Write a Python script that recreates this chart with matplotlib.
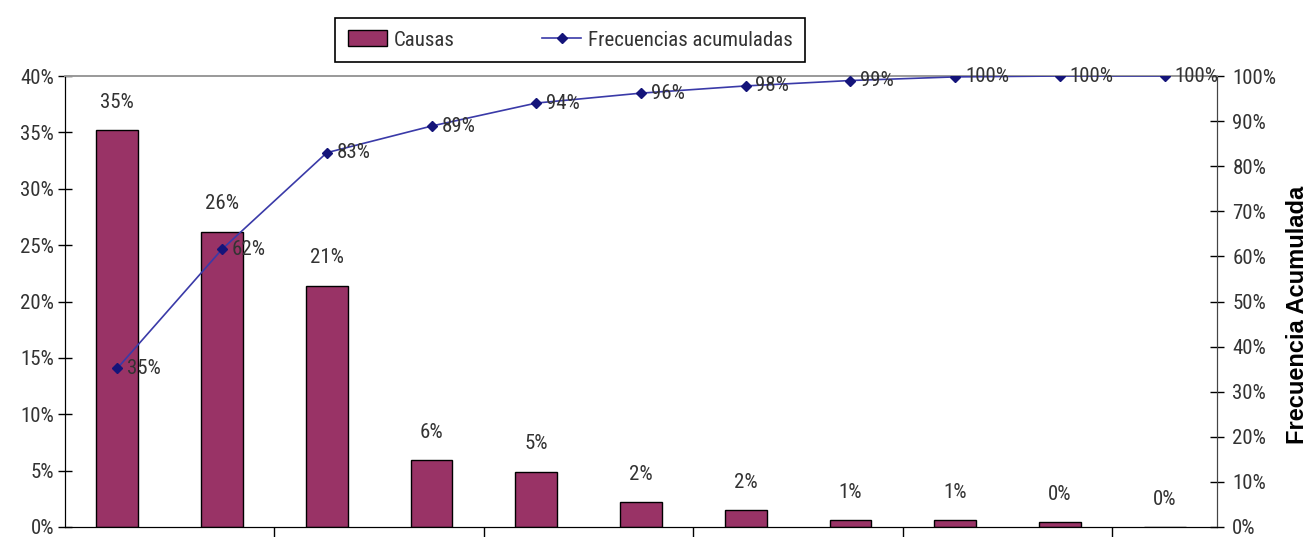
import numpy as np
import matplotlib
matplotlib.use("Agg")
from matplotlib import pyplot as plt
from matplotlib.ticker import FuncFormatter, FixedLocator

# ---------------------------------------------------------
# data
# ---------------------------------------------------------
causas = ["C1", "C2", "C3", "C4", "C5", "C6", "C7", "C8", "C9", "C10", "C11"]
frecuencia = [0.352, 0.262, 0.214, 0.059, 0.049, 0.022, 0.015, 0.006, 0.006, 0.004, 0.0]
acumulada = [0.352, 0.616, 0.830, 0.889, 0.940, 0.962, 0.978, 0.990, 0.998, 1.0, 1.0]

left_ticks = [0, 0.05, 0.10, 0.15, 0.20, 0.25, 0.30, 0.35, 0.40]
right_ticks = [0, 0.1, 0.2, 0.3, 0.4, 0.5, 0.6, 0.7, 0.8, 0.9, 1.0]

barColor = "#993366"
lineColor = "#3a3aa8"
markColor = "#14147a"
textColor = "#333333"

plt.rcParams["font.family"] = ["Roboto Condensed", "Archivo Narrow", "DejaVu Sans"]
plt.rcParams["font.size"] = 15

pct = FuncFormatter(lambda v, p: "{:.0f}%".format(v * 100))

# ---------------------------------------------------------
# figure
# ---------------------------------------------------------
fig = plt.figure(figsize=(13.07, 5.37), dpi=100)
ax = fig.add_axes([65 / 1307, 1 - 527 / 537, (1217 - 65) / 1307, (527 - 76) / 537])
ax2 = ax.twinx()

x = np.arange(len(causas))
bars = ax.bar(x, frecuencia, width=0.4, color=barColor, edgecolor="black",
              linewidth=1.0, label="Causas", zorder=2)
line, = ax2.plot(x, acumulada, color=lineColor, linewidth=1.2, marker="D",
                 markersize=5, markerfacecolor=markColor, markeredgecolor=markColor,
                 label="Frecuencias acumuladas", zorder=3)

ax.set_xlim(-0.5, len(causas) - 0.5)
ax.set_ylim(0, 0.40)
ax2.set_ylim(0, 1.0)

# left axis
ax.yaxis.set_major_locator(FixedLocator(left_ticks))
ax.yaxis.set_major_formatter(pct)
ax.tick_params(axis="y", direction="inout", length=10, width=1, pad=3, colors="black",
               labelcolor=textColor)
# right axis
ax2.yaxis.set_major_locator(FixedLocator(right_ticks))
ax2.yaxis.set_major_formatter(pct)
ax2.tick_params(axis="y", direction="inout", length=10, width=1, pad=6,
                labelcolor=textColor)

# category axis: ticks every two categories, no labels
ax.xaxis.set_major_locator(FixedLocator([1.5, 3.5, 5.5, 7.5, 9.5]))
ax.set_xticklabels([])
ax.tick_params(axis="x", direction="out", length=8, width=1)

for a in (ax, ax2):
    a.spines["top"].set_color("#999999")
    a.spines["left"].set_color("black")
    a.spines["right"].set_color("#444444")
    a.spines["bottom"].set_color("black")
    a.spines["top"].set_linewidth(1.2)

# bar labels
for xi, v in zip(x, frecuencia):
    ax.annotate("{:.0f}%".format(v * 100), (xi, v), xytext=(0, 20),
                textcoords="offset points", ha="center", va="center",
                color=textColor, fontsize=15)

# cumulative labels
for xi, v in zip(x, acumulada):
    ax2.annotate("{:.0f}%".format(v * 100), (xi, v), xytext=(7, 0),
                 textcoords="offset points", ha="left", va="center",
                 color=textColor, fontsize=15, zorder=4)

fig.text(1297 / 1307, 1 - 315 / 537, "Frecuencia Acumulada", rotation=90,
         ha="center", va="center", fontweight="bold", fontsize=17,
         family=["Liberation Sans", "DejaVu Sans"])

leg = fig.legend([bars, line], ["Causas", "Frecuencias acumuladas"], loc="center",
                 bbox_to_anchor=(570 / 1307, 1 - 40 / 537), ncol=2, frameon=True,
                 fancybox=False, edgecolor="black", framealpha=1,
                 handlelength=1.9, handleheight=0.8, columnspacing=4.2,
                 handletextpad=0.3, borderpad=0.6, borderaxespad=0,
                 fontsize=15)
leg.get_frame().set_linewidth(1.2)
for t in leg.get_texts():
    t.set_color(textColor)

fig.savefig("out.png", dpi=100)
